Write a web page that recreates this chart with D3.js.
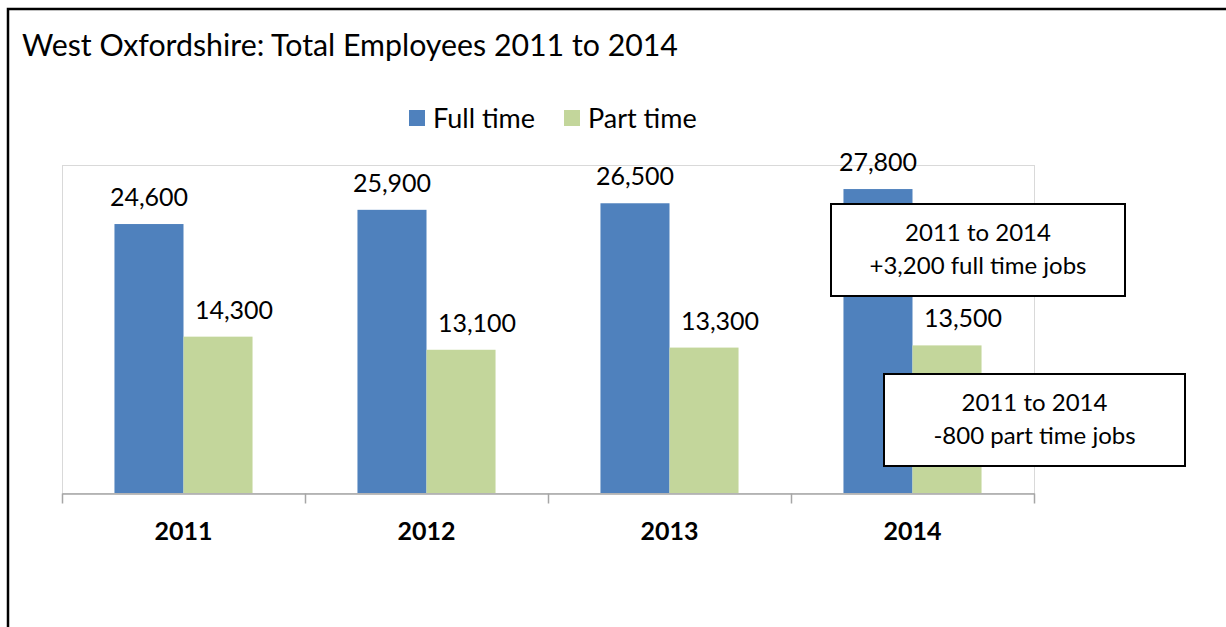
<!DOCTYPE html>
<html>
<head>
<meta charset="utf-8">
<script src="https://cdn.jsdelivr.net/npm/d3@7"></script>
<style>
  body { margin: 0; background: #fff; }
  text { font-family: Lato, "Open Sans", sans-serif; fill: #000; }
</style>
</head>
<body>
<svg id="chart" width="1226" height="627"></svg>
<script>
// data
var years = ["2011", "2012", "2013", "2014"];
var seriesNames = ["Full time", "Part time"];
var fullTime = [24600, 25900, 26500, 27800];
var partTime = [14300, 13100, 13300, 13500];
var notes = [
    ["2011 to 2014", "+3,200 full time jobs"],
    ["2011 to 2014", "-800 part time jobs"]
];

var colors = ["#4f81bd", "#c3d69b"];
var labelShift = [0, 16]; // part time labels sit a little right of their bars
var svg = d3.select("#chart");
var W = 1226, H = 627;

// outer frame (runs off the right and bottom edges)
svg.append("rect")
    .attr("x", 8).attr("y", 9)
    .attr("width", W + 10).attr("height", H + 10)
    .attr("fill", "none").attr("stroke", "#000").attr("stroke-width", 2.5);

svg.append("text")
    .attr("x", 22).attr("y", 56)
    .style("font-size", "30.3px")
    .text("West Oxfordshire: Total Employees 2011 to 2014");

var plot = {left: 62, right: 1034, top: 165, bottom: 493};

var x0 = d3.scaleBand().domain(years).range([plot.left, plot.right]).paddingInner(0).paddingOuter(0);
var x1 = d3.scaleBand().domain(seriesNames).range([0, x0.bandwidth()]).paddingOuter(0.76).paddingInner(0);
var y = d3.scaleLinear().domain([0, 30000]).range([plot.bottom, plot.top]);

// plot area border
svg.append("rect")
    .attr("x", plot.left + 0.5).attr("y", plot.top + 0.5)
    .attr("width", plot.right - plot.left).attr("height", plot.bottom - plot.top)
    .attr("fill", "none").attr("stroke", "#d9d9d9").attr("stroke-width", 1);

var rows = years.map(function (yr, i) {
    return {year: yr, values: [fullTime[i], partTime[i]]};
});

var groups = svg.append("g").selectAll("g")
    .data(rows)
    .enter().append("g")
    .attr("transform", function (d) { return "translate(" + x0(d.year) + ",0)"; });

groups.selectAll("rect")
    .data(function (d) { return d.values.map(function (v, j) { return {name: seriesNames[j], value: v, j: j}; }); })
    .enter().append("rect")
    .attr("x", function (d) { return x1(d.name); })
    .attr("y", function (d) { return y(d.value); })
    .attr("width", x1.bandwidth())
    .attr("height", function (d) { return plot.bottom - y(d.value); })
    .attr("fill", function (d) { return colors[d.j]; });

groups.selectAll("text.val")
    .data(function (d) { return d.values.map(function (v, j) { return {name: seriesNames[j], value: v, j: j}; }); })
    .enter().append("text")
    .attr("class", "val")
    .attr("x", function (d) { return x1(d.name) + x1.bandwidth() / 2 + labelShift[d.j]; })
    .attr("y", function (d) { return y(d.value) - 18; })
    .attr("text-anchor", "middle")
    .style("font-size", "25px")
    .text(function (d) { return d3.format(",")(d.value); });

// x axis
var xAxis = d3.axisBottom(x0).tickSize(0).tickFormat("");
var axisG = svg.append("g")
    .attr("transform", "translate(0," + (plot.bottom + 0.5) + ")")
    .call(xAxis);
axisG.select(".domain").attr("stroke", "#a6a6a6").attr("stroke-width", 1.5);
axisG.selectAll(".bound")
    .data(d3.range(years.length + 1))
    .enter().append("line")
    .attr("x1", function (i) { return plot.left + i * x0.bandwidth() + 0.5; })
    .attr("x2", function (i) { return plot.left + i * x0.bandwidth() + 0.5; })
    .attr("y1", 0).attr("y2", 10)
    .attr("stroke", "#a6a6a6").attr("stroke-width", 1.5);

svg.append("g").selectAll("text")
    .data(years)
    .enter().append("text")
    .attr("x", function (d) { return x0(d) + x0.bandwidth() / 2; })
    .attr("y", 540)
    .attr("text-anchor", "middle")
    .style("font-size", "25px")
    .style("font-weight", "bold")
    .text(function (d) { return d; });

// legend
var legend = svg.append("g");
var legendX = [409, 564];
seriesNames.forEach(function (name, i) {
    legend.append("rect")
        .attr("x", legendX[i]).attr("y", 110)
        .attr("width", 16).attr("height", 16)
        .attr("fill", colors[i]);
    legend.append("text")
        .attr("x", legendX[i] + 24).attr("y", 128)
        .style("font-size", "27px")
        .text(name);
});

// annotation boxes
var boxes = [
    {x: 831, y: 204, w: 294, h: 92},
    {x: 884, y: 374, w: 301, h: 92}
];
boxes.forEach(function (b, i) {
    svg.append("rect")
        .attr("x", b.x).attr("y", b.y)
        .attr("width", b.w).attr("height", b.h)
        .attr("fill", "#fff").attr("stroke", "#000").attr("stroke-width", 2);
    notes[i].forEach(function (line, k) {
        svg.append("text")
            .attr("x", b.x + b.w / 2)
            .attr("y", b.y + 37 + k * 33)
            .attr("text-anchor", "middle")
            .style("font-size", "24px")
            .text(line);
    });
});
</script>
</body>
</html>
